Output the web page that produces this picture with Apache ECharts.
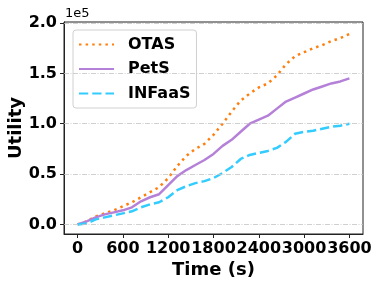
<!DOCTYPE html>
<html><head><meta charset="utf-8">
<script src="https://cdn.jsdelivr.net/npm/echarts@6/dist/echarts.min.js"></script>
<style>html,body{margin:0;padding:0;background:#fff}#c{width:382px;height:287px}</style>
</head><body><div id="c"></div>
<script>
const times = [0,120,240,360,480,600,720,840,960,1080,1200,1320,1440,1560,1680,1800,1920,2040,2160,2280,2400,2520,2640,2760,2880,3000,3120,3240,3360,3480,3600];
const otas = [0,3000,8000,11000,14000,18000,22000,27000,32000,37000,46000,58000,68000,75000,80000,89000,100000,112000,123000,130000,136000,140000,148000,159000,167000,171000,175000,178000,182000,185000,189000];
const pets = [0,3000,7000,10000,12000,14000,17000,23000,27000,30000,39000,48000,54000,59000,64000,70000,78000,84000,92000,100000,104000,108000,115000,122000,126000,130000,134000,137000,140000,142000,145000];
const infaas = [0,1000,5000,7000,9000,11000,13000,17000,20000,22000,27000,34000,38000,41000,43000,46000,51000,57000,65000,69000,71000,73000,76000,82000,90000,92000,93000,95000,97000,98000,100000];
const xTicks = [0,600,1200,1800,2400,3000,3600];
const yTicks = [0,50000,100000,150000,200000];
const yTickLabels = ['0.0','0.5','1.0','1.5','2.0'];

const pair = a => times.map((t,i)=>[t,a[i]]);
const font = 'DejaVu Sans';
const chart = echarts.init(document.getElementById('c'), null, {renderer:'canvas'});
chart.setOption({
  animation:false,
  backgroundColor:'#fff',
  grid:{left:64, top:22, width:299, height:212, show:true, borderColor:'#222', borderWidth:1, backgroundColor:'transparent', containLabel:false, outerBoundsMode:'none'},
  xAxis:{type:'value', min:-180, max:3780,
    name:'Time (s)', nameLocation:'middle', nameGap:27, nameMoveOverlap:false,
    nameTextStyle:{fontFamily:font, fontWeight:'bold', fontSize:18, color:'#000'},
    axisLine:{show:true, onZero:false, lineStyle:{color:'#222', width:1}},
    axisTick:{show:true, length:4, customValues:xTicks, lineStyle:{color:'#222'}},
    axisLabel:{customValues:xTicks, margin:7, hideOverlap:false, showMinLabel:true, showMaxLabel:true,
      fontFamily:font, fontWeight:'bold', fontSize:16, color:'#000', formatter:v=>String(v)},
    splitLine:{show:false}},
  yAxis:{type:'value', min:-9500, max:201000,
    name:'Utility', nameLocation:'middle', nameGap:39, nameMoveOverlap:false,
    nameTextStyle:{fontFamily:font, fontWeight:'bold', fontSize:18, color:'#000'},
    axisLine:{show:true, onZero:false, lineStyle:{color:'#222', width:1}},
    axisTick:{show:true, length:4, customValues:yTicks, lineStyle:{color:'#222'}},
    axisLabel:{customValues:yTicks, margin:7, hideOverlap:false, fontFamily:font, fontWeight:'bold', fontSize:16, color:'#000',
      formatter:v=>{const i=yTicks.indexOf(v);return i>=0?yTickLabels[i]:'';}},
    splitLine:{show:false}},
  legend:{orient:'vertical', left:73, top:30, padding:[5,6,5,5], itemGap:5.5, itemWidth:35, itemHeight:14,
    backgroundColor:'rgba(255,255,255,0.8)', borderColor:'#d0d0d0', borderWidth:1, borderRadius:3,
    itemStyle:{opacity:0},
    textStyle:{fontFamily:font, fontWeight:'bold', fontSize:16, color:'#000', lineHeight:19, padding:[0,0,0,9]},
    data:['OTAS','PetS','INFaaS']},
  graphic:[{type:'text', left:65, top:7, style:{text:'1e5', fontFamily:font, fontSize:13, fill:'#000'}}],
  series:[
    {name:'Grid', type:'line', data:[], silent:true,
      markLine:{silent:true, symbol:'none', label:{show:false},
        lineStyle:{color:'#c4c4c4', width:0.8, type:[5,1.5,1,1.5]},
        data:yTicks.map(v=>({yAxis:v}))}},
    {name:'OTAS', type:'line', data:pair(otas), showSymbol:false, symbol:'none', z:3,
      lineStyle:{color:'#ff7f0e', width:2.5, type:[2.5,4.1]}, itemStyle:{color:'#ff7f0e'}},
    {name:'PetS', type:'line', data:pair(pets), showSymbol:false, symbol:'none', z:3,
      lineStyle:{color:'#b580d8', width:2.5, type:'solid'}, itemStyle:{color:'#b580d8'}},
    {name:'INFaaS', type:'line', data:pair(infaas), showSymbol:false, symbol:'none', z:3,
      lineStyle:{color:'#33ccff', width:2.5, type:[9.25,4]}, itemStyle:{color:'#33ccff'}}
  ]
});
</script></body></html>
